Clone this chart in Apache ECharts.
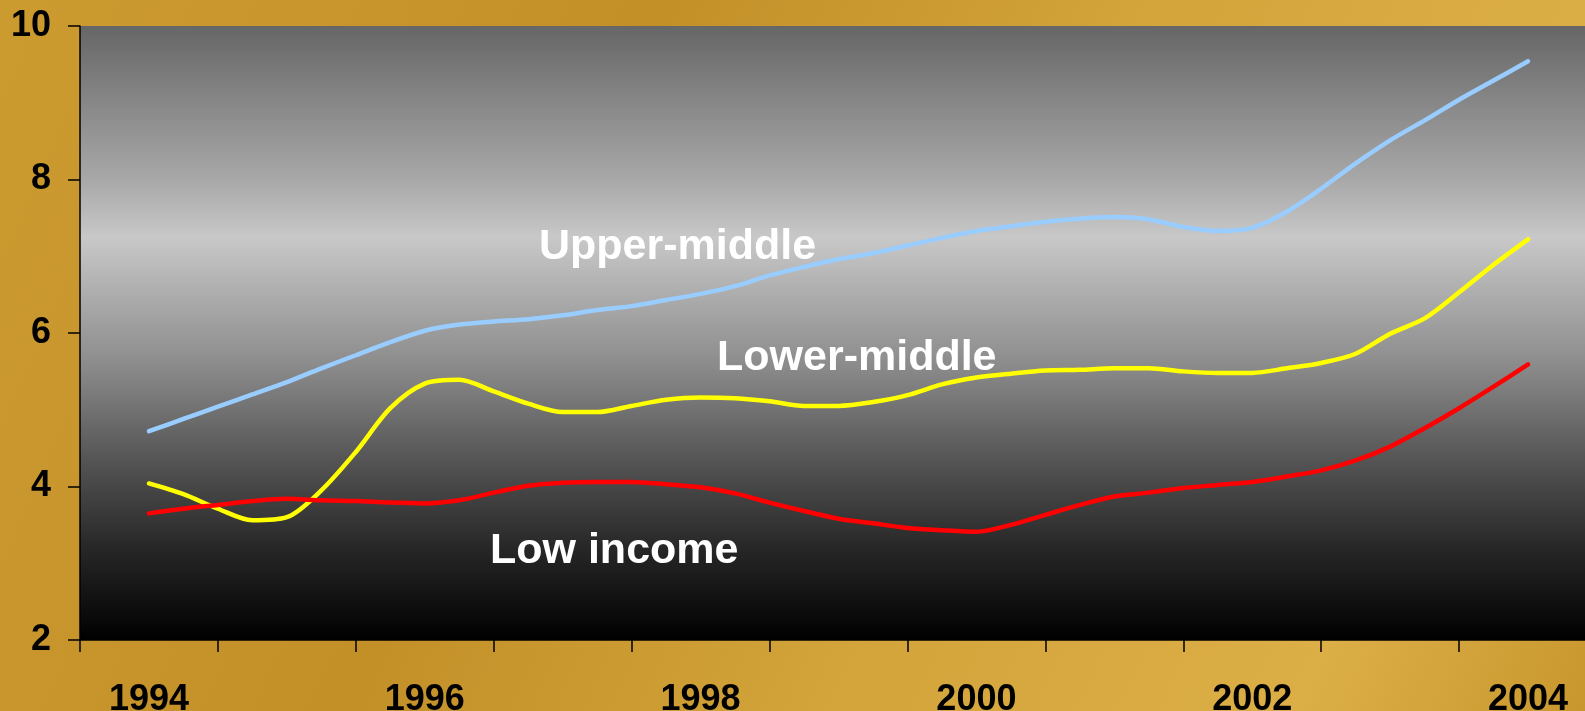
<!DOCTYPE html>
<html>
<head>
<meta charset="utf-8">
<script src="https://cdn.jsdelivr.net/npm/echarts@6/dist/echarts.min.js"></script>
<style>
  html, body { margin: 0; padding: 0; }
  #chart { width: 1585px; height: 711px; }
</style>
</head>
<body>
<div id="chart"></div>
<script>
// Category labels for the x axis (one band per year)
const years = ['1994','1995','1996','1997','1998','1999','2000','2001','2002','2003','2004'];

// Quarterly time points at which the curves are sampled
const quarters = [
  1994.00,1994.25,1994.50,1994.75,1995.00,1995.25,1995.50,1995.75,
  1996.00,1996.25,1996.50,1996.75,1997.00,1997.25,1997.50,1997.75,
  1998.00,1998.25,1998.50,1998.75,1999.00,1999.25,1999.50,1999.75,
  2000.00,2000.25,2000.50,2000.75,2001.00,2001.25,2001.50,2001.75,
  2002.00,2002.25,2002.50,2002.75,2003.00,2003.25,2003.50,2003.75,
  2004.00
];

const upperMiddle = [
  4.72,4.88,5.04,5.20,5.36,5.54,5.71,5.88,
  6.03,6.11,6.15,6.18,6.23,6.30,6.35,6.43,
  6.51,6.61,6.75,6.86,6.96,7.04,7.14,7.24,
  7.33,7.39,7.45,7.49,7.51,7.48,7.38,7.33,
  7.37,7.58,7.88,8.21,8.51,8.77,9.04,9.29,
  9.54
];

const lowerMiddle = [
  4.04,3.90,3.71,3.56,3.60,3.95,4.45,5.02,
  5.34,5.39,5.24,5.08,4.97,4.97,5.05,5.13,
  5.16,5.15,5.11,5.05,5.05,5.10,5.19,5.33,
  5.42,5.47,5.51,5.52,5.54,5.54,5.50,5.48,
  5.48,5.54,5.61,5.73,5.99,6.19,6.53,6.89,
  7.22
];

const lowIncome = [
  3.65,3.71,3.76,3.81,3.84,3.82,3.81,3.79,
  3.78,3.82,3.92,4.01,4.05,4.06,4.06,4.03,
  3.99,3.91,3.79,3.68,3.58,3.52,3.46,3.43,
  3.41,3.50,3.63,3.76,3.87,3.92,3.98,4.02,
  4.06,4.13,4.21,4.34,4.52,4.76,5.02,5.30,
  5.59
];

const yTicks = { min: 2, max: 10, interval: 2 };

function pairs(vals) { return quarters.map((q, i) => [q, vals[i]]); }

const FONT = '"Liberation Sans", Arial, Helvetica, sans-serif';

const chart = echarts.init(document.getElementById('chart'));

const option = {
  animation: false,
  backgroundColor: {
    type: 'linear', x: 0, y: 0, x2: 1, y2: 1,
    colorStops: [
      { offset: 0, color: '#cc9b30' },
      { offset: 0.35, color: '#c39028' },
      { offset: 0.6, color: '#d2a43a' },
      { offset: 0.85, color: '#dcae46' },
      { offset: 1, color: '#c8982e' }
    ]
  },
  grid: {
    left: 80, top: 26, right: -12, bottom: 71,
    outerBoundsMode: 'none',
    containLabel: false,
    show: true,
    borderWidth: 0,
    backgroundColor: {
      type: 'linear', x: 0, y: 0, x2: 0, y2: 1,
      colorStops: [
        { offset: 0, color: '#666666' },
        { offset: 0.25, color: '#a8a8a8' },
        { offset: 0.345, color: '#c8c8c8' },
        { offset: 0.42, color: '#b2b2b2' },
        { offset: 0.55, color: '#8c8c8c' },
        { offset: 0.7, color: '#575757' },
        { offset: 0.85, color: '#272727' },
        { offset: 1, color: '#000000' }
      ]
    }
  },
  xAxis: [
    {
      type: 'category',
      data: years,
      boundaryGap: true,
      axisLine: { show: true, lineStyle: { color: '#000', width: 1.5 } },
      axisTick: { show: true, interval: 0, length: 12, lineStyle: { color: '#000', width: 1.5 } },
      axisLabel: {
        interval: 1, margin: 42,
        color: '#000', fontSize: 36, fontWeight: 'bold', fontFamily: FONT
      },
      splitLine: { show: false }
    },
    {
      type: 'value',
      min: 1993.5, max: 2004.5,
      show: false,
      splitLine: { show: false }
    }
  ],
  yAxis: {
    type: 'value',
    min: yTicks.min, max: yTicks.max, interval: yTicks.interval,
    axisLine: { show: true, lineStyle: { color: '#000', width: 1.5 } },
    axisTick: { show: true, length: 12, lineStyle: { color: '#000', width: 1.5 } },
    axisLabel: {
      margin: 29, color: '#000', fontSize: 36, fontWeight: 'bold', fontFamily: FONT
    },
    splitLine: { show: false }
  },
  series: [
    {
      name: 'Upper-middle', type: 'line', xAxisIndex: 1,
      data: pairs(upperMiddle), showSymbol: false, smooth: 0.3,
      lineStyle: { color: '#99ccff', width: 4.5, cap: 'round' }
    },
    {
      name: 'Lower-middle', type: 'line', xAxisIndex: 1,
      data: pairs(lowerMiddle), showSymbol: false, smooth: 0.3,
      lineStyle: { color: '#ffff00', width: 4.5, cap: 'round' }
    },
    {
      name: 'Low income', type: 'line', xAxisIndex: 1,
      data: pairs(lowIncome), showSymbol: false, smooth: 0.3,
      lineStyle: { color: '#ff0000', width: 4.5, cap: 'round' }
    }
  ],
  graphic: [
    { type: 'text', left: 539, top: 226, z: 100,
      style: { text: 'Upper-middle', fill: '#ffffff', font: 'bold 43px ' + FONT } },
    { type: 'text', left: 717, top: 337, z: 100,
      style: { text: 'Lower-middle', fill: '#ffffff', font: 'bold 43px ' + FONT } },
    { type: 'text', left: 490, top: 530, z: 100,
      style: { text: 'Low income', fill: '#ffffff', font: 'bold 43px ' + FONT } }
  ]
};

chart.setOption(option);
</script>
</body>
</html>
